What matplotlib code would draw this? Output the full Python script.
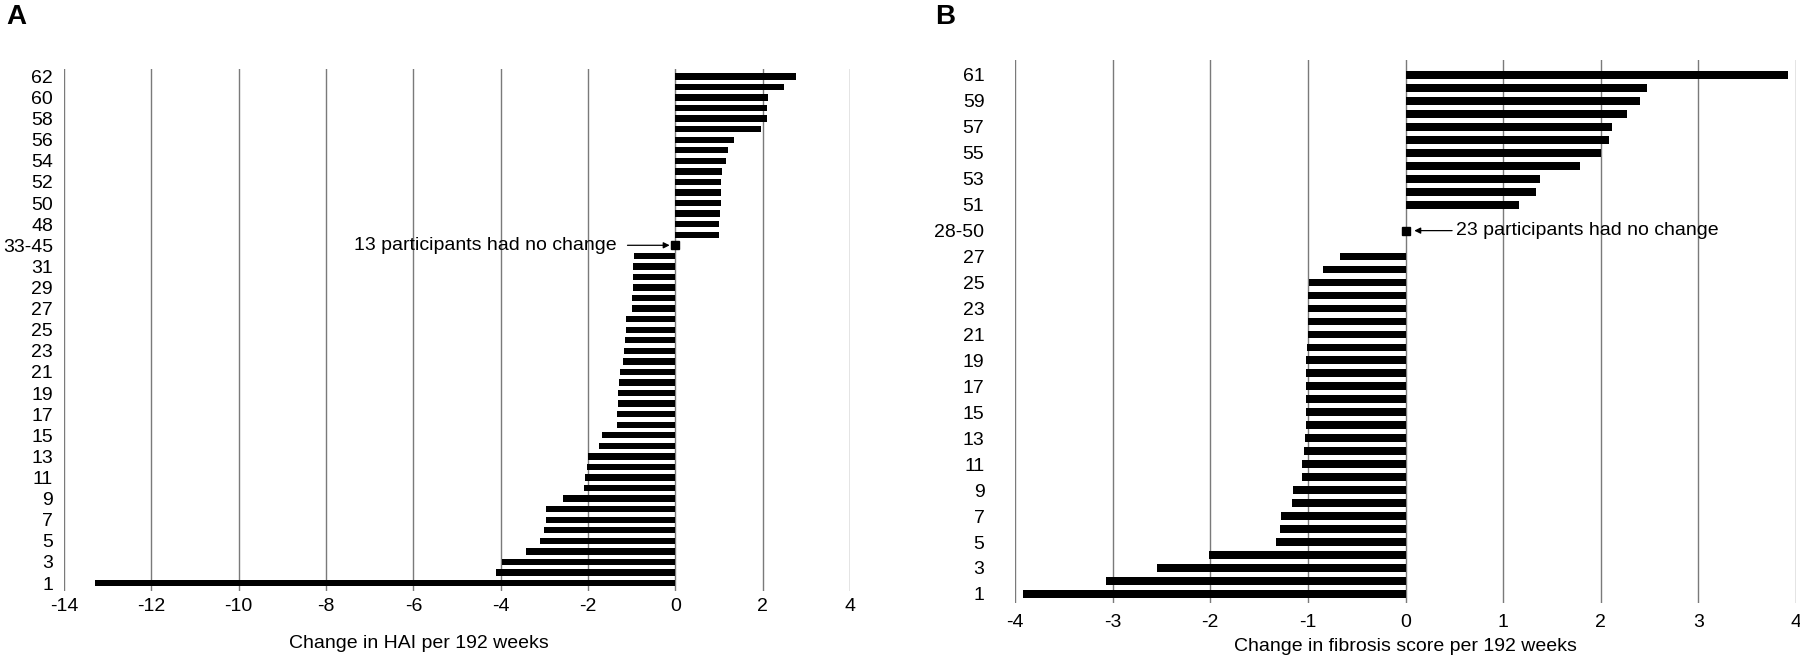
import matplotlib
matplotlib.use("Agg")
import matplotlib.pyplot as plt
import numpy as np

plt.rcParams["font.family"] = ["Liberation Sans Narrow", "Liberation Sans", "DejaVu Sans"]

# Panel A: change in HAI, one value per row from bottom (row 0) to top
hai_rows = list(range(1, 33)) + ["33-45"] + list(range(47, 63))
hai_change = [-13.3, -4.10, -3.98, -3.42, -3.09, -3.01, -2.97, -2.97, -2.57, -2.10,
              -2.07, -2.03, -2.00, -1.74, -1.69, -1.33, -1.33, -1.31, -1.31, -1.28,
              -1.27, -1.19, -1.17, -1.16, -1.14, -1.13, -0.99, -0.99, -0.97, -0.97,
              -0.97, -0.94,
              0.0,
              0.99, 1.01, 1.02, 1.04, 1.04, 1.05, 1.08, 1.15, 1.21, 1.34,
              1.97, 2.09, 2.10, 2.12, 2.50, 2.76]
hai_ticklabels = ["1", "3", "5", "7", "9", "11", "13", "15", "17", "19", "21", "23",
                  "25", "27", "29", "31", "33-45", "48", "50", "52", "54", "56",
                  "58", "60", "62"]
hai_xticks = [-14, -12, -10, -8, -6, -4, -2, 0, 2, 4]

# Panel B: change in fibrosis score (rows 27 and 29 are empty)
fib_pos = list(range(0, 27)) + [28] + list(range(30, 41))
fib_change = [-3.92, -3.07, -2.55, -2.01, -1.33, -1.29, -1.28, -1.16, -1.15, -1.06,
              -1.06, -1.04, -1.03, -1.02, -1.02, -1.02, -1.02, -1.02, -1.02, -1.01,
              -1.00, -1.00, -1.00, -1.00, -0.99, -0.85, -0.67,
              0.0,
              1.16, 1.34, 1.38, 1.79, 2.00, 2.08, 2.12, 2.27, 2.40, 2.47, 3.92]
fib_ticklabels = ["1", "3", "5", "7", "9", "11", "13", "15", "17", "19", "21", "23",
                  "25", "27", "28-50", "51", "53", "55", "57", "59", "61"]
fib_xticks = [-4, -3, -2, -1, 0, 1, 2, 3, 4]

FS = 14
W, H = 1800, 656


def style_axis(ax, xticks, ytick_pos, ytick_labels, ypad, xpad):
    for s in ax.spines.values():
        s.set_visible(False)
    ax.set_xticks(xticks)
    ax.set_xticklabels([str(t) for t in xticks])
    ax.set_yticks(ytick_pos)
    ax.set_yticklabels(ytick_labels)
    ax.tick_params(axis="y", length=0, pad=ypad, labelsize=FS)
    ax.tick_params(axis="x", length=0, pad=xpad, labelsize=FS)
    for t in xticks:
        ax.axvline(t, color="#7a7a7a", lw=1.0, zorder=0)


def draw_bars(ax, pos, vals, height):
    pos = np.asarray(pos)
    vals = np.asarray(vals)
    nz = vals != 0
    ax.barh(pos[nz], vals[nz], height=height, color="black", zorder=2)
    ax.plot(vals[~nz], pos[~nz], marker="s", ms=6, color="black", ls="none", zorder=3)


fig = plt.figure(figsize=(W / 100, H / 100), dpi=100)

# ---- panel A
axA = fig.add_axes([64 / W, 1 - 591 / H, 786 / W, 522 / H])
posA = np.arange(len(hai_change))
draw_bars(axA, posA, hai_change, 0.6)
style_axis(axA, hai_xticks, posA[::2], hai_ticklabels, ypad=8, xpad=5)
axA.set_xlim(-14, 4)
axA.set_ylim(-0.75, len(hai_change) - 0.3)
axA.set_xlabel("Change in HAI per 192 weeks", fontsize=FS, labelpad=10)
axA.xaxis.set_label_coords(0.452, -0.085)
axA.annotate("13 participants had no change", xy=(-0.13, hai_rows.index("33-45")),
             xytext=(-1.35, hai_rows.index("33-45")), ha="right", va="center",
             fontsize=FS,
             arrowprops=dict(arrowstyle="-|>", color="black", lw=0.9,
                             shrinkA=6, shrinkB=0, mutation_scale=9))

# ---- panel B
axB = fig.add_axes([1015 / W, 1 - 603 / H, 781 / W, 543 / H])
draw_bars(axB, fib_pos, fib_change, 0.6)
style_axis(axB, fib_xticks, np.arange(0, 41, 2), fib_ticklabels, ypad=22, xpad=8)
axB.set_xlim(-4, 4)
axB.set_ylim(-0.7, 41.15)
axB.set_xlabel("Change in fibrosis score per 192 weeks", fontsize=FS, labelpad=5)
axB.annotate("23 participants had no change", xy=(0.09, 28), xytext=(0.52, 28),
             ha="left", va="center", fontsize=FS,
             arrowprops=dict(arrowstyle="-|>", color="black", lw=0.9,
                             shrinkA=1, shrinkB=0, mutation_scale=9))

fig.text(6 / W, 1 - 17 / H, "A", fontsize=20, fontweight="bold",
         family=["Liberation Sans", "DejaVu Sans"], va="center", ha="left")
fig.text(935 / W, 1 - 17 / H, "B", fontsize=20, fontweight="bold",
         family=["Liberation Sans", "DejaVu Sans"], va="center", ha="left")

fig.savefig("out.png", dpi=100)
